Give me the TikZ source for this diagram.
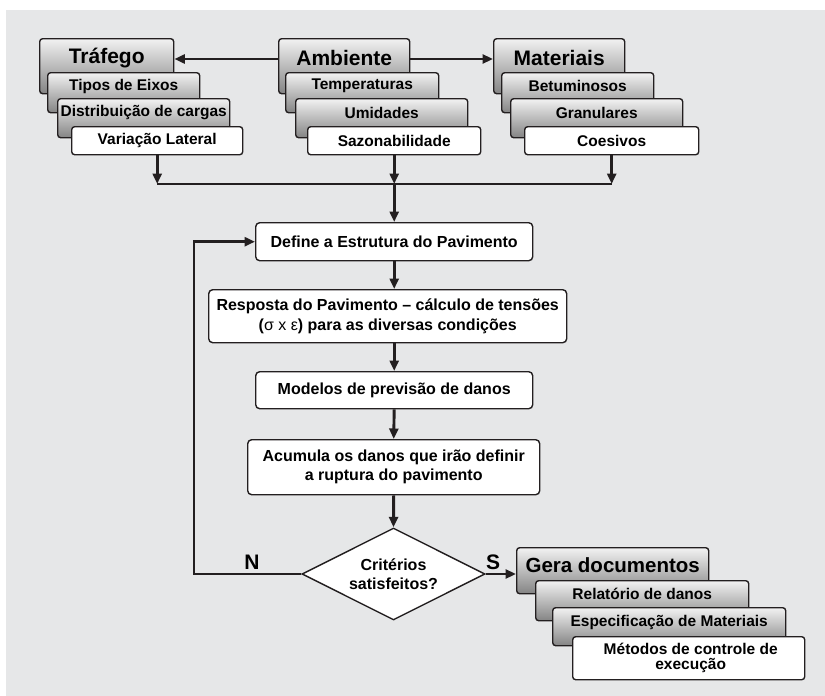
\documentclass[tikz,border=0pt]{standalone}
\usepackage{fontspec}
\setmainfont{Liberation Sans}
\usetikzlibrary{arrows.meta,shapes.geometric}
\definecolor{bg}{RGB}{230,231,232}
\definecolor{ink}{RGB}{35,31,32}
\definecolor{shtop}{RGB}{242,242,242}
\definecolor{shbot}{RGB}{132,132,132}

\begin{document}
\begin{tikzpicture}[x=1pt,y=-1pt,
  stk/.style={draw=ink, line width=1.4pt, rounded corners=3pt,
    top color=shtop, bottom color=shbot, anchor=north west, inner sep=0pt},
  leaf/.style={draw=ink, line width=1.4pt, rounded corners=3pt,
    fill=white, anchor=north west, inner sep=0pt},
  flow/.style={draw=ink, line width=1.4pt, rounded corners=4pt,
    fill=white, anchor=north west, inner sep=0pt},
  ttl/.style={font=\fontsize{21}{25}\selectfont\bfseries, inner sep=0pt},
  sub/.style={font=\fontsize{15.5}{18}\selectfont\bfseries, inner sep=0pt, align=center},
  txt/.style={font=\fontsize{16}{20}\selectfont\bfseries, inner sep=0pt, align=center},
  lbl/.style={font=\fontsize{21}{25}\selectfont\bfseries, inner sep=0pt},
  wire/.style={draw=ink, line width=2.9pt},
  arr/.style={wire, -{Triangle[length=10.5pt,width=9pt]}},
]
\useasboundingbox (0,0) rectangle (825,696);
\fill[bg] (6,10) rectangle (825,696);

% ---------- Tráfego ----------
\node[stk, minimum width=134pt, minimum height=55pt] (t1) at (39,38) {};
\node[ttl] (t1l) at ([yshift=-20pt]t1.north) {Tráfego};
\node[stk, minimum width=152pt, minimum height=40pt] (t2) at (47,72) {};
\node[sub] (t2l) at ([yshift=-14pt]t2.north) {Tipos de Eixos};
\node[stk, minimum width=172pt, minimum height=39pt] (t3) at (57,98) {};
\node[sub] (t3l) at ([yshift=-15pt]t3.north) {Distribuição de cargas};
\node[leaf, minimum width=171pt, minimum height=28pt] (t4) at (71,126) {};
\node[sub] (t4l) at (t4.center) {Variação Lateral};

% ---------- Ambiente ----------
\node[stk, minimum width=131pt, minimum height=55pt] (a1) at (278,38) {};
\node[ttl] (a1l) at ([yshift=-20pt]a1.north) {Ambiente};
\node[stk, minimum width=153pt, minimum height=40pt] (a2) at (285,72) {};
\node[sub] (a2l) at ([yshift=-14pt]a2.north) {Temperaturas};
\node[stk, minimum width=172pt, minimum height=39pt] (a3) at (295,98) {};
\node[sub] (a3l) at ([yshift=-15pt]a3.north) {Umidades};
\node[leaf, minimum width=173pt, minimum height=28pt] (a4) at (307,126) {};
\node[sub] (a4l) at (a4.center) {Sazonabilidade};

% ---------- Materiais ----------
\node[stk, minimum width=131pt, minimum height=55pt] (m1) at (493,38) {};
\node[ttl] (m1l) at ([yshift=-20pt]m1.north) {Materiais};
\node[stk, minimum width=152pt, minimum height=40pt] (m2) at (501,72) {};
\node[sub] (m2l) at ([yshift=-14pt]m2.north) {Betuminosos};
\node[stk, minimum width=172pt, minimum height=39pt] (m3) at (510,98) {};
\node[sub] (m3l) at ([yshift=-15pt]m3.north) {Granulares};
\node[leaf, minimum width=174pt, minimum height=28pt] (m4) at (524,126) {};
\node[sub] (m4l) at (m4.center) {Coesivos};

% ---------- main flow ----------
\node[flow, minimum width=277pt, minimum height=38pt] (def) at (255,222) {};
\node[txt] (defl) at (def.center) {Define a Estrutura do Pavimento};
\node[flow, minimum width=358pt, minimum height=53pt] (resp) at (208,289) {};
\node[txt] (respl) at (resp.center) {Resposta do Pavimento – cálculo de tensões\\
  ({\mdseries σ x ε}) para as diversas condições};
\node[flow, minimum width=277pt, minimum height=37pt] (mod) at (255,371) {};
\node[txt] (modl) at (mod.center) {Modelos de previsão de danos};
\node[flow, minimum width=292pt, minimum height=55pt] (acu) at (247,439) {};
\node[txt, font=\fontsize{16}{19}\selectfont\bfseries] (acul) at (acu.center)
  {Acumula os danos que irão definir\\a ruptura do pavimento};
\node[diamond, draw=ink, line width=1.4pt, fill=white, inner sep=0pt,
  minimum width=183pt, minimum height=92pt] (dia) at (393.5,574) {};
\node[txt, font=\fontsize{16}{19}\selectfont\bfseries] (dial) at (dia.center)
  {Critérios\\satisfeitos?};

% ---------- Gera documentos ----------
\node[stk, minimum width=192pt, minimum height=46pt] (g1) at (516,547) {};
\node[ttl, font=\fontsize{20.5}{24}\selectfont\bfseries] (g1l) at ([yshift=-18pt]g1.north) {Gera documentos};
\node[stk, minimum width=213pt, minimum height=40pt] (g2) at (535,580) {};
\node[sub] (g2l) at ([yshift=-14pt]g2.north) {Relatório de danos};
\node[stk, minimum width=233pt, minimum height=38pt] (g3) at (552,607) {};
\node[sub] (g3l) at ([yshift=-15pt]g3.north) {Especificação de Materiais};
\node[leaf, minimum width=232pt, minimum height=43pt] (g4) at (572,636) {};
\node[sub, font=\fontsize{15.5}{15}\selectfont\bfseries] (g4l) at ([xshift=2pt]g4.center)
  {Métodos de controle de\\execução};

% ---------- connectors ----------
\coordinate (bus) at (0,184);
\coordinate (loop) at (194,574);

\draw[arr] (a1.west |- 0,59) -- (t1.east |- 0,59);
\draw[arr] (a1.east |- 0,59) -- (m1.west |- 0,59);

\draw[arr] (t4.south) -- (t4.south |- bus);
\draw[arr] (a4.south) -- (a4.south |- bus);
\draw[arr] (m4.south) -- (m4.south |- bus);
\draw[wire] (t4.south |- bus) -- (m4.south |- bus);
\draw[arr] (a4.south |- bus) -- (def.north);

\draw[arr] (def.south) -- (def.south |- resp.north);
\draw[arr] (mod.north |- resp.south) -- (mod.north);
\draw[arr] (mod.south) -- (acu.north);
\draw[arr] (acu.south) -- (dia.north);

\draw[arr] (dia.west) -- (loop) |- (def.west);
\draw[arr] (dia.east) -- (g1.west |- dia.east);

\node[lbl] (nlab) at (252,562) {N};
\node[lbl] (slab) at (493,562) {S};
\end{tikzpicture}
\end{document}
